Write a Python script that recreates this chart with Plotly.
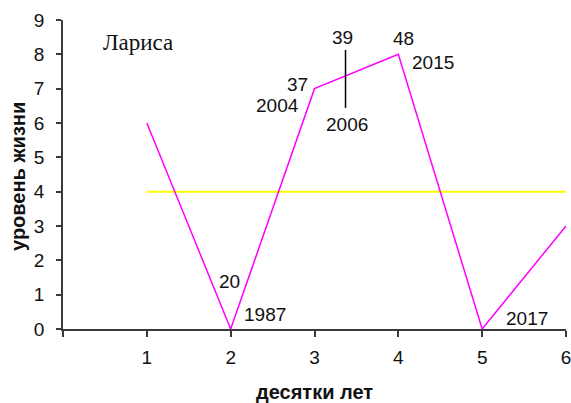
import plotly.graph_objects as go

# decades (x) and life level (y)
decades = [1, 2, 3, 4, 5, 6]
life_level = [6, 0, 7, 8, 0, 3]
average_level = [4, 4, 4, 4, 4, 4]

# point labels: (decade index, age, year)
point_ages = ['20', '37', '48']
point_age_idx = [1, 2, 3]
point_years = ['1987', '2004', '2015', '2017']
point_year_idx = [1, 2, 3, 4]

# extra mark between decades 3 and 4
mark_age = '39'
mark_year = '2006'
mark_x = 3.37
mark_y_top = 8.13
mark_y_bottom = 6.44

person = 'Лариса'

font_main = 'Liberation Sans, Arial, sans-serif'
text_color = '#111111'
axis_color = '#3a3a3a'

fig = go.Figure()

fig.add_trace(go.Scatter(x=decades, y=average_level, mode='lines',
                         line=dict(color='#ffff00', width=2),
                         hoverinfo='skip'))
fig.add_trace(go.Scatter(x=decades, y=life_level, mode='lines',
                         line=dict(color='#ff00ff', width=1.5),
                         hoverinfo='skip'))

# shifts in pixels for each label, relative to its point
age_shift = [(-1, 48), (-17, 4), (5, 16)]
year_shift = [(34, 15), (-37, -17), (35, -8), (45, 11)]

annotations = []
for txt, i, (dx, dy) in zip(point_ages, point_age_idx, age_shift):
    annotations.append(dict(x=decades[i], y=life_level[i], text=txt, showarrow=False,
                            xshift=dx, yshift=dy, xanchor='center', yanchor='middle'))
for txt, i, (dx, dy) in zip(point_years, point_year_idx, year_shift):
    annotations.append(dict(x=decades[i], y=life_level[i], text=txt, showarrow=False,
                            xshift=dx, yshift=dy, xanchor='center', yanchor='middle'))

annotations.append(dict(x=mark_x, y=mark_y_top, text=mark_age, showarrow=False,
                        xshift=-3, yshift=12, xanchor='center', yanchor='middle'))
annotations.append(dict(x=mark_x, y=mark_y_bottom, text=mark_year, showarrow=False,
                        xshift=1, yshift=-17, xanchor='center', yanchor='middle'))

annotations.append(dict(xref='paper', yref='paper', x=0.15, y=0.928, text=person,
                        showarrow=False, xanchor='center', yanchor='middle',
                        font=dict(family='Liberation Serif, Times New Roman, serif',
                                  size=23, color=text_color)))

# axis titles
annotations.append(dict(xref='paper', yref='paper', x=0.5, y=0, yshift=-63,
                        text='<b>десятки лет</b>', showarrow=False,
                        xanchor='center', yanchor='middle',
                        font=dict(size=20, color=text_color)))
annotations.append(dict(xref='paper', yref='paper', x=0, xshift=-45, y=0.492,
                        text='<b>уровень жизни</b>', textangle=-90, showarrow=False,
                        xanchor='center', yanchor='middle',
                        font=dict(size=20, color=text_color)))

fig.add_shape(type='line', x0=mark_x, x1=mark_x, y0=mark_y_bottom, y1=mark_y_top,
              line=dict(color='#000000', width=1.5))

fig.update_layout(
    width=571, height=403,
    margin=dict(l=63, r=5, t=20, b=74),
    paper_bgcolor='white', plot_bgcolor='white',
    showlegend=False,
    font=dict(family=font_main, size=19, color=text_color),
    annotations=annotations,
)
fig.update_xaxes(range=[0, 6], tickvals=[0, 1, 2, 3, 4, 5, 6],
                 ticktext=['', '1', '2', '3', '4', '5', '6'],
                 showgrid=False, zeroline=False, showline=True,
                 linecolor=axis_color, linewidth=1.5,
                 ticks='outside', ticklen=6, tickwidth=1.5, tickcolor=axis_color,
                 ticklabelstandoff=4, ticklabeloverflow='allow', automargin=False)
fig.update_yaxes(range=[0, 9], dtick=1,
                 showgrid=False, zeroline=False, showline=True,
                 linecolor=axis_color, linewidth=1.5,
                 ticks='outside', ticklen=5, tickwidth=1.5, tickcolor=axis_color,
                 ticklabelstandoff=8, automargin=False)

fig.write_html('out.html', config={'displayModeBar': False},
               post_script="document.body.style.margin='0';")
